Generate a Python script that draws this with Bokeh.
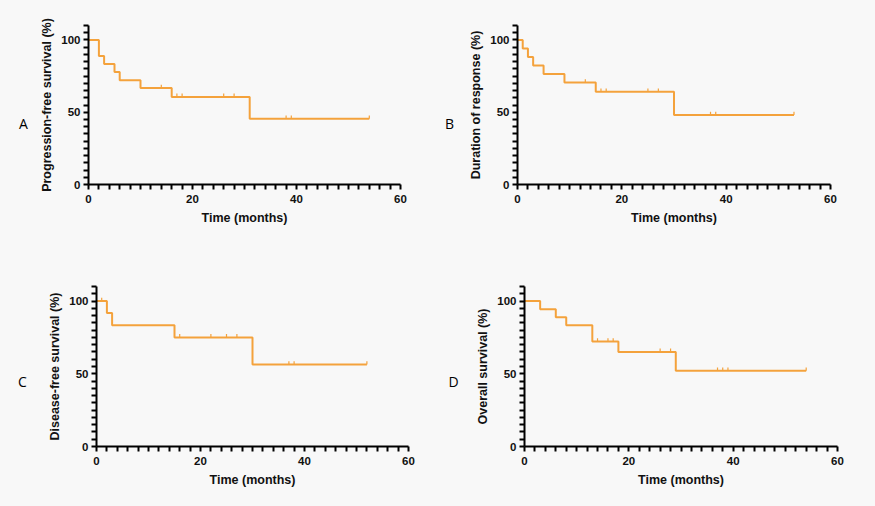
from bokeh.plotting import figure
from bokeh.layouts import column, row
from bokeh.models import Range1d, FixedTicker
from bokeh.embed import file_html
from bokeh.resources import INLINE

# ---------------- data ----------------
a_times = [0, 2, 3, 5, 6, 10, 16, 31, 54]
a_surv = [100, 88.9, 83.3, 77.8, 72.2, 66.7, 60.6, 45.5, 45.5]
a_cens_t = [14, 17, 18, 26, 28, 38, 39, 54]
a_cens_s = [66.7, 60.6, 60.6, 60.6, 60.6, 45.5, 45.5, 45.5]

b_times = [0, 1, 2, 3, 5, 9, 15, 30, 53]
b_surv = [100, 94.1, 88.2, 82.4, 76.5, 70.6, 64.2, 48.1, 48.1]
b_cens_t = [13, 16, 17, 25, 27, 37, 38, 53]
b_cens_s = [70.6, 64.2, 64.2, 64.2, 64.2, 48.1, 48.1, 48.1]

c_times = [0, 2, 3, 15, 30, 52]
c_surv = [100, 91.7, 83.3, 75.0, 56.3, 56.3]
c_cens_t = [1, 16, 22, 25, 27, 37, 38, 52]
c_cens_s = [100, 75.0, 75.0, 75.0, 75.0, 56.3, 56.3, 56.3]

d_times = [0, 3, 6, 8, 13, 18, 29, 54]
d_surv = [100, 94.4, 88.9, 83.3, 72.2, 65.0, 52.0, 52.0]
d_cens_t = [14, 16, 17, 26, 28, 37, 38, 39, 54]
d_cens_s = [72.2, 72.2, 72.2, 65.0, 65.0, 52.0, 52.0, 52.0, 52.0]

x_major = [0, 20, 40, 60]
x_all_ticks = list(range(0, 61, 2))
y_major = [0, 50, 100]
y_all_ticks = list(range(0, 111, 5))

panel_letters = ["A", "B", "C", "D"]

BG = "#f8f8f8"
ORANGE = "#f4a23c"
FONT = "Liberation Sans"


def overrides(all_ticks, major):
    return {t: (str(t) if t in major else "") for t in all_ticks}


def panel(times, surv, cens_t, cens_s, ylabel, w, h, bl, br, bt, bb):
    p = figure(width=w, height=h, output_backend="svg", toolbar_location=None,
               x_range=Range1d(0, 60), y_range=Range1d(0, 110),
               min_border_left=bl, min_border_right=br,
               min_border_top=bt, min_border_bottom=bb)
    p.background_fill_color = BG
    p.border_fill_color = BG
    p.outline_line_color = None
    p.grid.visible = False

    for ax in (p.xaxis[0], p.yaxis[0]):
        ax.axis_line_width = 2
        ax.axis_line_color = "black"
        ax.major_tick_line_width = 2
        ax.major_tick_line_color = "black"
        ax.major_tick_out = 5
        ax.major_tick_in = 0
        ax.minor_tick_line_color = None
        ax.major_label_text_font = FONT
        ax.major_label_text_font_style = "bold"
        ax.major_label_text_font_size = "11.5px"
        ax.major_label_text_color = "#111111"
        ax.axis_label_text_font = FONT
        ax.axis_label_text_font_style = "bold"
        ax.axis_label_text_font_size = "12.5px"
        ax.axis_label_text_color = "#111111"

    p.xaxis.ticker = FixedTicker(ticks=x_all_ticks)
    p.xaxis.major_label_overrides = overrides(x_all_ticks, x_major)
    p.yaxis.ticker = FixedTicker(ticks=y_all_ticks)
    p.yaxis.major_label_overrides = overrides(y_all_ticks, y_major)
    p.xaxis.axis_label = "Time (months)"
    p.yaxis.axis_label = ylabel
    p.xaxis.major_label_standoff = 5
    p.yaxis.major_label_standoff = 3
    p.xaxis.axis_label_standoff = 5
    p.yaxis.axis_label_standoff = 4

    p.step(times, surv, mode="after", line_color=ORANGE, line_width=2)
    p.segment(x0=cens_t, y0=cens_s, x1=cens_t, y1=[s + 2.3 for s in cens_s],
              line_color=ORANGE, line_width=1.2)
    return p


pA = panel(a_times, a_surv, a_cens_t, a_cens_s, "Progression-free survival (%)",
           438, 258, 88, 38, 25, 74)
pB = panel(b_times, b_surv, b_cens_t, b_cens_s, "Duration of response (%)",
           412, 258, 79, 20, 25, 73)
pC = panel(c_times, c_surv, c_cens_t, c_cens_s, "Disease-free survival (%)",
           438, 238, 96, 30, 28, 50)
pD = panel(d_times, d_surv, d_cens_t, d_cens_s, "Overall survival (%)",
           419, 238, 86, 20, 28, 50)

layout = column(row(pA, pB), row(pC, pD))
layout.styles = {"background-color": BG}

html = file_html(layout, INLINE)

letter_pos = [(23.5, 124), (449.5, 124), (22.5, 382), (453.5, 382)]
divs = "".join(
    f'<div style="position:absolute;left:{x}px;top:{y}px;transform:translate(-50%,-50%);'
    f'font-family:\'Open Sans\';font-size:14px;color:#000;line-height:1;">{t}</div>'
    for t, (x, y) in zip(panel_letters, letter_pos)
)
html = html.replace("<head>", "<head><style>html,body{background:#f8f8f8;}</style>", 1)
html = html.replace("</body>", divs + "</body>", 1)
open("out.html", "w").write(html)
